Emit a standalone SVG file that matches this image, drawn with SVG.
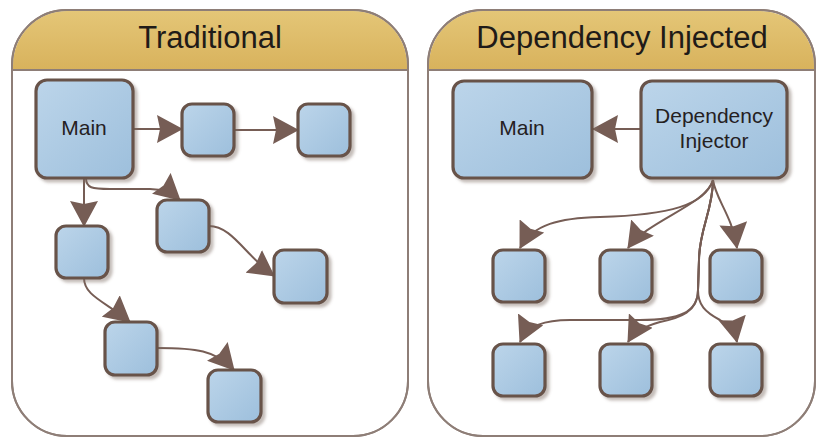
<svg xmlns="http://www.w3.org/2000/svg" width="816" height="439" viewBox="0 0 816 439">
<defs>
<linearGradient id="hdr" x1="0" y1="0" x2="0" y2="1"><stop offset="0" stop-color="#e4c677"/><stop offset="1" stop-color="#d8b25c"/></linearGradient>
<linearGradient id="nf" x1="0" y1="0" x2="1" y2="1"><stop offset="0" stop-color="#bcd5ea"/><stop offset="1" stop-color="#9dbfdc"/></linearGradient>
<filter id="sh" x="-20%" y="-20%" width="150%" height="150%"><feDropShadow dx="3" dy="3" stdDeviation="1.5" flood-color="#7a6a62" flood-opacity="0.45"/></filter>
<marker id="ah" markerUnits="userSpaceOnUse" viewBox="0 0 26 28" refX="25" refY="14" markerWidth="26" markerHeight="28" orient="auto"><path d="M0,0 L26,14 L0,28 L3,14 Z" fill="#765d55"/></marker>
</defs>
<style>
.panel{fill:#fff;stroke:#8e7e77;stroke-width:2}
.hdr{fill:url(#hdr);stroke:none}
.sep{stroke:#8e7e77;stroke-width:2}
.title{font-family:"Liberation Sans",Arial,sans-serif;font-size:31px;fill:#1f1b18;text-anchor:middle}
.node rect{fill:url(#nf);stroke:#675249;stroke-width:3.2;filter:url(#sh)}
.node text{font-family:"Liberation Sans",Arial,sans-serif;font-size:21px;fill:#25211f;text-anchor:middle}
.conn path{fill:none;stroke:#765d55;stroke-width:2;marker-end:url(#ah)}
</style>

<g id="panel-traditional">
<rect class="panel" x="12" y="10" width="396" height="426" rx="55" ry="55"/>
<path class="hdr" d="M13,70 L13,65 A54,54 0 0 1 67,11 L353,11 A54,54 0 0 1 407,65 L407,70 Z"/>
<rect x="12" y="10" width="396" height="426" rx="55" ry="55" fill="none" stroke="#8e7e77" stroke-width="2"/>
<line class="sep" x1="12" y1="70" x2="408" y2="70"/>
<text class="title" x="210" y="48">Traditional</text>
</g>

<g id="panel-di">
<rect class="panel" x="428" y="10" width="387" height="426" rx="55" ry="55"/>
<path class="hdr" d="M429,70 L429,65 A54,54 0 0 1 483,11 L760,11 A54,54 0 0 1 814,65 L814,70 Z"/>
<rect x="428" y="10" width="387" height="426" rx="55" ry="55" fill="none" stroke="#8e7e77" stroke-width="2"/>
<line class="sep" x1="428" y1="70" x2="815" y2="70"/>
<text class="title" x="622" y="48">Dependency Injected</text>
</g>

<g id="connectors" class="conn">
<path d="M133,129 L182,129"/>
<path d="M234,130 L298,130"/>
<path d="M84,178 L84,226"/>
<path d="M86,178 C86,188 92,189 110,189 L150,189 C162,189 171,192 180,200"/>
<path d="M209,226 C232,226 245,255 274,276"/>
<path d="M84,278 C84,296 106,302 130,322"/>
<path d="M157,348 C195,348 216,350 234,370"/>
<path d="M641,129 L593,129"/>
<path d="M713,180 C705,205 670,215 600,217 C560,218 533,224 520,248"/>
<path d="M713,180 C706,205 648,220 628,248"/>
<path d="M713,180 C716,200 732,215 737,248"/>
<path d="M713,180 C713,210 699,230 699,260 L698,290 C698,312 680,320 640,320 L570,320 C545,320 528,325 520,342"/>
<path d="M713,180 C713,210 699,230 699,260 L698,290 C698,312 680,318 660,322 C645,326 634,332 628,342"/>
<path d="M713,180 C713,210 699,230 699,260 L698,290 C698,305 705,312 720,320 C730,326 735,332 737,342"/>
</g>

<g id="t-main" class="node"><rect x="36" y="80" width="97" height="98" rx="11"/><text x="84" y="135">Main</text></g>
<g id="t-n2" class="node"><rect x="182" y="104" width="52" height="52" rx="10"/></g>
<g id="t-n3" class="node"><rect x="298" y="104" width="52" height="52" rx="10"/></g>
<g id="t-n4" class="node"><rect x="157" y="200" width="52" height="52" rx="10"/></g>
<g id="t-n5" class="node"><rect x="56" y="226" width="52" height="52" rx="10"/></g>
<g id="t-n6" class="node"><rect x="274" y="250" width="53" height="53" rx="10"/></g>
<g id="t-n7" class="node"><rect x="105" y="322" width="52" height="53" rx="10"/></g>
<g id="t-n8" class="node"><rect x="208" y="370" width="53" height="52" rx="10"/></g>

<g id="d-main" class="node"><rect x="453" y="81" width="139" height="97" rx="11"/><text x="522" y="135">Main</text></g>
<g id="d-injector" class="node"><rect x="641" y="81" width="146" height="97" rx="11"/><text x="714" y="123">Dependency</text><text x="714" y="148">Injector</text></g>
<g id="d-r1c1" class="node"><rect x="493" y="250" width="52" height="52" rx="10"/></g>
<g id="d-r1c2" class="node"><rect x="600" y="250" width="52" height="52" rx="10"/></g>
<g id="d-r1c3" class="node"><rect x="710" y="250" width="52" height="52" rx="10"/></g>
<g id="d-r2c1" class="node"><rect x="493" y="344" width="52" height="52" rx="10"/></g>
<g id="d-r2c2" class="node"><rect x="600" y="344" width="52" height="52" rx="10"/></g>
<g id="d-r2c3" class="node"><rect x="710" y="344" width="52" height="52" rx="10"/></g>
</svg>
